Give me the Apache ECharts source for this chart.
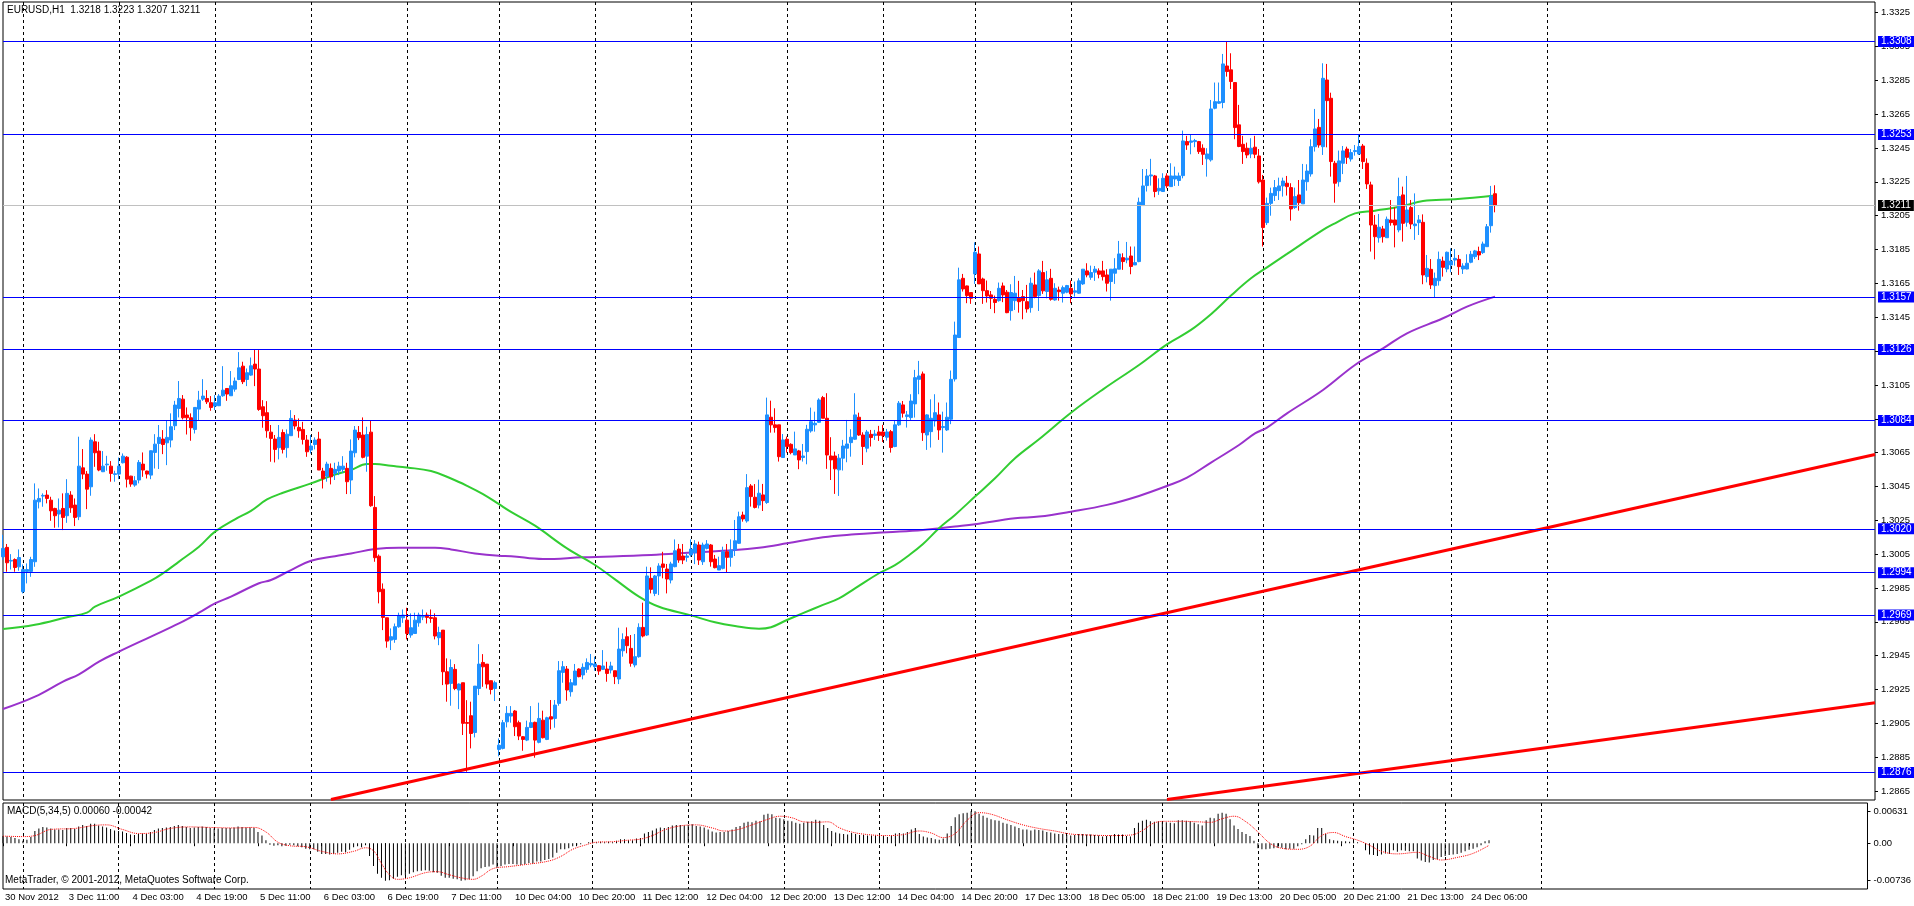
<!DOCTYPE html>
<html><head><meta charset="utf-8">
<script src="https://cdn.jsdelivr.net/npm/echarts@6/dist/echarts.min.js"></script>
<style>html,body{margin:0;padding:0;background:#fff}#c{width:1914px;height:906px}</style>
</head><body><div id="c"></div>
<script>
// trading sessions: [day label, first hour, last hour]
const sessions = [
 ['30 Nov',18,22],['3 Dec',0,23],['4 Dec',0,23],['5 Dec',0,23],['6 Dec',0,23],['7 Dec',0,22],
 ['10 Dec',0,23],['11 Dec',0,23],['12 Dec',0,23],['13 Dec',0,23],['14 Dec',0,22],
 ['17 Dec',0,23],['18 Dec',0,23],['19 Dec',0,23],['20 Dec',0,23],['21 Dec',0,22],
 ['24 Dec',0,23],['25 Dec',0,23],['26 Dec',0,23],['27 Dec',0,23],['28 Dec',0,22]
];
const firstLabel = '30 Nov 2012';
const titleText = 'EURUSD,H1  1.3218 1.3223 1.3207 1.3211';
const macdText = 'MACD(5,34,5) 0.00060 -0.00042';
const copyText = 'MetaTrader, \u00a9 2001-2012, MetaQuotes Software Corp.';

// [open, close, low, high]
const candles = [
[1.30034,1.30084,1.30015,1.30164],[1.30090,1.29999,1.29946,1.30110],[1.30009,1.30013,1.29959,1.30050],[1.30018,1.29971,1.29946,1.30025],[1.29975,1.30030,1.29952,1.30078],
[1.29828,1.29959,1.29818,1.29989],[1.29948,1.29959,1.29877,1.29995],[1.29948,1.30018,1.29916,1.30034],[1.30005,1.30369,1.29975,1.30468],[1.30359,1.30379,1.30320,1.30438],
[1.30393,1.30397,1.30330,1.30409],[1.30399,1.30379,1.30350,1.30428],[1.30369,1.30306,1.30247,1.30389],[1.30320,1.30277,1.30206,1.30324],[1.30287,1.30310,1.30208,1.30379],
[1.30320,1.30267,1.30192,1.30409],[1.30277,1.30409,1.30235,1.30493],[1.30399,1.30324,1.30294,1.30422],[1.30340,1.30267,1.30216,1.30379],[1.30271,1.30570,1.30251,1.30744],
[1.30560,1.30523,1.30493,1.30671],[1.30523,1.30434,1.30316,1.30541],[1.30448,1.30724,1.30395,1.30740],[1.30714,1.30649,1.30566,1.30759],[1.30659,1.30547,1.30540,1.30714],
[1.30537,1.30570,1.30535,1.30659],[1.30578,1.30582,1.30543,1.30631],[1.30570,1.30527,1.30478,1.30600],[1.30521,1.30525,1.30478,1.30543],[1.30523,1.30570,1.30493,1.30621],
[1.30590,1.30629,1.30586,1.30645],[1.30623,1.30493,1.30444,1.30629],[1.30511,1.30464,1.30448,1.30513],[1.30458,1.30484,1.30448,1.30511],[1.30488,1.30592,1.30468,1.30606],
[1.30582,1.30547,1.30507,1.30651],[1.30541,1.30523,1.30497,1.30543],[1.30517,1.30661,1.30493,1.30663],[1.30651,1.30700,1.30556,1.30759],[1.30704,1.30740,1.30553,1.30813],
[1.30730,1.30698,1.30641,1.30783],[1.30708,1.30740,1.30576,1.30842],[1.30724,1.30803,1.30681,1.30882],[1.30809,1.30931,1.30783,1.30956],[1.30911,1.30970,1.30858,1.31073],
[1.30966,1.30856,1.30846,1.30990],[1.30872,1.30856,1.30757,1.30917],[1.30856,1.30797,1.30720,1.30882],[1.30787,1.30917,1.30763,1.30919],[1.30907,1.30960,1.30842,1.31015],
[1.30966,1.30984,1.30956,1.31084],[1.30970,1.30950,1.30937,1.31019],[1.30945,1.30917,1.30897,1.30984],[1.30925,1.30945,1.30901,1.30990],[1.30927,1.30984,1.30925,1.30996],
[1.30986,1.31019,1.30980,1.31161],[1.31029,1.30996,1.30956,1.31030],[1.30986,1.31045,1.30985,1.31132],[1.31025,1.31073,1.31010,1.31094],[1.31082,1.31151,1.31078,1.31244],
[1.31161,1.31069,1.31055,1.31187],[1.31082,1.31122,1.31043,1.31147],[1.31108,1.31163,1.31104,1.31212],[1.31173,1.31144,1.31043,1.31260],[1.31144,1.30905,1.30897,1.31256],
[1.30921,1.30868,1.30797,1.30960],[1.30886,1.30779,1.30738,1.30954],[1.30771,1.30734,1.30596,1.30813],[1.30730,1.30669,1.30592,1.30754],[1.30679,1.30740,1.30610,1.30813],
[1.30769,1.30669,1.30645,1.30787],[1.30679,1.30759,1.30620,1.30787],[1.30750,1.30852,1.30750,1.30901],[1.30842,1.30807,1.30787,1.30872],[1.30799,1.30779,1.30738,1.30852],
[1.30787,1.30728,1.30698,1.30832],[1.30724,1.30655,1.30625,1.30754],[1.30665,1.30689,1.30645,1.30754],[1.30698,1.30724,1.30669,1.30740],[1.30730,1.30547,1.30547,1.30773],
[1.30541,1.30497,1.30438,1.30560],[1.30511,1.30582,1.30478,1.30596],[1.30557,1.30507,1.30462,1.30586],[1.30527,1.30551,1.30488,1.30590],[1.30541,1.30570,1.30517,1.30596],
[1.30551,1.30570,1.30531,1.30629],[1.30557,1.30478,1.30405,1.30590],[1.30488,1.30659,1.30405,1.30728],[1.30649,1.30783,1.30622,1.30807],[1.30769,1.30738,1.30724,1.30807],
[1.30754,1.30622,1.30616,1.30858],[1.30629,1.30757,1.30537,1.30803],[1.30771,1.30336,1.30330,1.30842],[1.30326,1.30029,1.30005,1.30393],[1.30038,1.29828,1.29759,1.30048],
[1.29843,1.29676,1.29601,1.29877],[1.29674,1.29536,1.29497,1.29674],[1.29542,1.29562,1.29483,1.29611],[1.29546,1.29621,1.29526,1.29640],[1.29621,1.29688,1.29615,1.29704],
[1.29674,1.29690,1.29644,1.29723],[1.29660,1.29581,1.29546,1.29733],[1.29572,1.29615,1.29556,1.29700],[1.29581,1.29660,1.29581,1.29704],[1.29644,1.29690,1.29621,1.29704],
[1.29678,1.29682,1.29660,1.29723],[1.29690,1.29676,1.29640,1.29705],[1.29676,1.29670,1.29644,1.29723],[1.29674,1.29566,1.29546,1.29700],[1.29556,1.29587,1.29512,1.29621],
[1.29601,1.29355,1.29276,1.29601],[1.29355,1.29282,1.29178,1.29434],[1.29286,1.29380,1.29154,1.29428],[1.29369,1.29256,1.29246,1.29400],[1.29247,1.29282,1.29134,1.29286],
[1.29290,1.29050,1.28981,1.29290],[1.29055,1.29050,1.28764,1.29187],[1.29095,1.28990,1.28902,1.29178],[1.28996,1.29270,1.28967,1.29270],[1.29256,1.29400,1.29217,1.29518],
[1.29410,1.29384,1.29266,1.29459],[1.29400,1.29282,1.29256,1.29400],[1.29302,1.29250,1.29221,1.29302],[1.29256,1.29290,1.29182,1.29302],[1.28896,1.28921,1.28855,1.28961],
[1.28902,1.29054,1.28896,1.29070],[1.29059,1.29109,1.29026,1.29152],[1.29093,1.29109,1.29054,1.29152],[1.29123,1.29030,1.28975,1.29129],[1.29054,1.28975,1.28951,1.29066],
[1.28971,1.28955,1.28888,1.28975],[1.28951,1.29026,1.28945,1.29066],[1.29026,1.29054,1.29022,1.29152],[1.29056,1.28951,1.28847,1.29060],[1.28938,1.29079,1.28932,1.29172],
[1.29069,1.28965,1.28961,1.29125],[1.28955,1.29083,1.28951,1.29089],[1.29089,1.29075,1.29014,1.29188],[1.29079,1.29158,1.29024,1.29188],[1.29168,1.29361,1.29154,1.29418],
[1.29351,1.29385,1.29290,1.29418],[1.29371,1.29247,1.29184,1.29389],[1.29237,1.29290,1.29208,1.29312],[1.29276,1.29359,1.29276,1.29401],[1.29371,1.29326,1.29322,1.29375],
[1.29336,1.29381,1.29310,1.29404],[1.29369,1.29410,1.29349,1.29434],[1.29395,1.29404,1.29381,1.29460],[1.29385,1.29401,1.29361,1.29444],[1.29391,1.29359,1.29336,1.29395],
[1.29369,1.29389,1.29365,1.29483],[1.29371,1.29345,1.29296,1.29414],[1.29365,1.29389,1.29345,1.29414],[1.29361,1.29326,1.29282,1.29361],[1.29312,1.29489,1.29282,1.29615],
[1.29479,1.29546,1.29444,1.29582],[1.29562,1.29509,1.29464,1.29617],[1.29493,1.29405,1.29385,1.29572],[1.29395,1.29444,1.29381,1.29578],[1.29444,1.29617,1.29438,1.29641],
[1.29617,1.29566,1.29558,1.29763],[1.29572,1.29921,1.29566,1.29976],[1.29907,1.29842,1.29818,1.29972],[1.29818,1.29921,1.29802,1.29927],[1.29921,1.29980,1.29808,1.29996],
[1.29992,1.29972,1.29907,1.30064],[1.29962,1.29903,1.29818,1.29992],[1.29897,1.29992,1.29877,1.30005],[1.29976,1.30070,1.29972,1.30137],[1.30080,1.30015,1.29999,1.30110],
[1.30039,1.30015,1.29991,1.30110],[1.30031,1.30039,1.30005,1.30051],[1.30045,1.30080,1.30035,1.30137],[1.30059,1.30110,1.29991,1.30133],[1.30104,1.30015,1.29986,1.30124],
[1.30005,1.30104,1.29986,1.30118],[1.30084,1.30110,1.30078,1.30133],[1.30104,1.30005,1.29976,1.30110],[1.30021,1.29970,1.29966,1.30045],[1.29956,1.29982,1.29956,1.30035],
[1.29966,1.30064,1.29960,1.30094],[1.30064,1.30031,1.29940,1.30110],[1.30031,1.30074,1.29976,1.30137],[1.30074,1.30129,1.30039,1.30252],[1.30114,1.30271,1.30110,1.30301],
[1.30281,1.30258,1.30242,1.30301],[1.30246,1.30443,1.30236,1.30523],[1.30453,1.30390,1.30331,1.30464],[1.30386,1.30326,1.30320,1.30464],[1.30340,1.30410,1.30320,1.30490],
[1.30400,1.30366,1.30305,1.30465],[1.30355,1.30873,1.30347,1.30975],[1.30859,1.30814,1.30768,1.30957],[1.30814,1.30798,1.30768,1.30912],[1.30814,1.30626,1.30597,1.30814],
[1.30621,1.30725,1.30621,1.30760],[1.30729,1.30686,1.30650,1.30745],[1.30699,1.30650,1.30640,1.30705],[1.30636,1.30672,1.30636,1.30774],[1.30660,1.30607,1.30552,1.30666],
[1.30621,1.30630,1.30597,1.30701],[1.30656,1.30788,1.30581,1.30814],[1.30778,1.30833,1.30768,1.30916],[1.30814,1.30823,1.30774,1.30892],[1.30829,1.30961,1.30827,1.30971],
[1.30975,1.30853,1.30853,1.30985],[1.30853,1.30636,1.30554,1.31001],[1.30630,1.30607,1.30488,1.30741],[1.30630,1.30554,1.30406,1.30656],[1.30548,1.30617,1.30394,1.30642],
[1.30617,1.30689,1.30544,1.30725],[1.30676,1.30701,1.30593,1.30843],[1.30709,1.30741,1.30626,1.30788],[1.30729,1.30873,1.30725,1.31001],[1.30859,1.30754,1.30749,1.30886],
[1.30754,1.30686,1.30577,1.30770],[1.30676,1.30772,1.30652,1.30784],[1.30758,1.30739,1.30686,1.30784],[1.30751,1.30760,1.30725,1.30784],[1.30772,1.30752,1.30719,1.30808],
[1.30772,1.30750,1.30713,1.30814],[1.30741,1.30772,1.30721,1.30790],[1.30774,1.30680,1.30650,1.30784],[1.30686,1.30814,1.30682,1.30839],[1.30814,1.30942,1.30808,1.30955],
[1.30932,1.30883,1.30857,1.30955],[1.30863,1.30873,1.30798,1.30896],[1.30857,1.30955,1.30843,1.30995],[1.30938,1.31093,1.30857,1.31139],[1.31083,1.31103,1.30995,1.31192],
[1.31115,1.30768,1.30719,1.31129],[1.30754,1.30873,1.30666,1.30877],[1.30774,1.30853,1.30680,1.30965],[1.30837,1.30886,1.30804,1.30995],[1.30873,1.30784,1.30725,1.30946],
[1.30798,1.30804,1.30650,1.30892],[1.30784,1.30859,1.30778,1.30946],[1.30847,1.31083,1.30818,1.31135],[1.31085,1.31345,1.31070,1.31424],[1.31330,1.31671,1.31330,1.31743],
[1.31680,1.31617,1.31602,1.31706],[1.31635,1.31578,1.31533,1.31637],[1.31596,1.31562,1.31529,1.31596],[1.31706,1.31834,1.31647,1.31893],[1.31824,1.31647,1.31647,1.31868],
[1.31676,1.31607,1.31529,1.31684],[1.31607,1.31576,1.31537,1.31667],[1.31582,1.31562,1.31499,1.31605],[1.31556,1.31537,1.31474,1.31578],[1.31548,1.31621,1.31542,1.31655],
[1.31635,1.31582,1.31539,1.31655],[1.31598,1.31477,1.31474,1.31611],[1.31489,1.31596,1.31430,1.31645],[1.31548,1.31592,1.31493,1.31694],[1.31562,1.31542,1.31477,1.31665],
[1.31572,1.31548,1.31438,1.31611],[1.31542,1.31499,1.31477,1.31641],[1.31507,1.31651,1.31477,1.31684],[1.31641,1.31572,1.31562,1.31714],[1.31578,1.31724,1.31487,1.31734],
[1.31714,1.31606,1.31588,1.31783],[1.31602,1.31671,1.31562,1.31724],[1.31680,1.31556,1.31548,1.31736],[1.31552,1.31621,1.31548,1.31651],[1.31611,1.31601,1.31548,1.31631],
[1.31592,1.31625,1.31537,1.31637],[1.31598,1.31637,1.31592,1.31641],[1.31621,1.31588,1.31533,1.31667],[1.31598,1.31606,1.31572,1.31661],[1.31592,1.31665,1.31588,1.31680],
[1.31647,1.31734,1.31641,1.31734],[1.31724,1.31700,1.31686,1.31769],[1.31686,1.31714,1.31671,1.31755],[1.31716,1.31734,1.31665,1.31753],[1.31724,1.31704,1.31680,1.31739],
[1.31724,1.31690,1.31667,1.31783],[1.31700,1.31651,1.31602,1.31734],[1.31661,1.31734,1.31548,1.31734],[1.31710,1.31736,1.31647,1.31799],[1.31734,1.31824,1.31734,1.31901],
[1.31802,1.31779,1.31730,1.31828],[1.31789,1.31799,1.31769,1.31895],[1.31812,1.31750,1.31704,1.31868],[1.31759,1.31773,1.31759,1.31868],[1.31779,1.32130,1.31775,1.32157],
[1.32110,1.32226,1.32110,1.32326],[1.32228,1.32285,1.32193,1.32326],[1.32285,1.32291,1.32228,1.32386],[1.32285,1.32193,1.32159,1.32291],[1.32197,1.32212,1.32173,1.32271],
[1.32193,1.32271,1.32193,1.32301],[1.32285,1.32226,1.32212,1.32301],[1.32222,1.32285,1.32222,1.32360],[1.32267,1.32285,1.32226,1.32340],[1.32258,1.32285,1.32226,1.32305],
[1.32287,1.32492,1.32271,1.32553],[1.32488,1.32468,1.32439,1.32522],[1.32484,1.32492,1.32413,1.32531],[1.32488,1.32494,1.32455,1.32504],[1.32488,1.32429,1.32415,1.32492],
[1.32449,1.32413,1.32350,1.32472],[1.32386,1.32415,1.32281,1.32449],[1.32380,1.32681,1.32370,1.32734],[1.32685,1.32724,1.32679,1.32837],[1.32715,1.32724,1.32711,1.32837],
[1.32719,1.32947,1.32685,1.33006],[1.32935,1.32902,1.32872,1.33080],[1.32912,1.32843,1.32799,1.33010],[1.32837,1.32571,1.32502,1.32837],[1.32587,1.32459,1.32455,1.32705],
[1.32472,1.32429,1.32356,1.32522],[1.32449,1.32409,1.32390,1.32482],[1.32415,1.32449,1.32390,1.32508],[1.32455,1.32413,1.32390,1.32522],[1.32403,1.32250,1.32240,1.32444],
[1.32261,1.31980,1.31868,1.32291],[1.32009,1.32123,1.31995,1.32157],[1.32123,1.32182,1.32050,1.32216],[1.32169,1.32216,1.32137,1.32261],[1.32198,1.32226,1.32143,1.32275],
[1.32226,1.32255,1.32163,1.32275],[1.32242,1.32222,1.32169,1.32285],[1.32216,1.32090,1.32021,1.32242],[1.32098,1.32163,1.32090,1.32216],[1.32173,1.32127,1.32080,1.32261],
[1.32120,1.32261,1.32120,1.32356],[1.32251,1.32314,1.32198,1.32354],[1.32297,1.32458,1.32281,1.32502],[1.32458,1.32563,1.32429,1.32681],[1.32572,1.32468,1.32452,1.32622],
[1.32458,1.32862,1.32409,1.32951],[1.32852,1.32730,1.32454,1.32947],[1.32744,1.32370,1.32281,1.32777],[1.32360,1.32242,1.32127,1.32374],[1.32251,1.32374,1.32222,1.32435],
[1.32360,1.32433,1.32296,1.32462],[1.32444,1.32395,1.32356,1.32458],[1.32385,1.32423,1.32370,1.32444],[1.32429,1.32435,1.32405,1.32468],[1.32415,1.32458,1.32409,1.32527],
[1.32462,1.32370,1.32326,1.32474],[1.32360,1.32238,1.32208,1.32389],[1.32232,1.31995,1.31838,1.32251],[1.31995,1.31926,1.31792,1.32054],[1.31920,1.31982,1.31891,1.32060],
[1.31972,1.31926,1.31891,1.31990],[1.31920,1.32029,1.31920,1.32045],[1.32025,1.32009,1.31991,1.32143],[1.32025,1.31995,1.31863,1.32100],[1.31966,1.32163,1.31952,1.32275],
[1.32173,1.32005,1.31897,1.32222],[1.32011,1.32084,1.31985,1.32285],[1.32098,1.32001,1.31971,1.32143],[1.31991,1.32001,1.31907,1.32182],[1.32009,1.32025,1.31936,1.32054],
[1.32011,1.31700,1.31645,1.32058],[1.31690,1.31739,1.31656,1.31818],[1.31733,1.31641,1.31617,1.31794],[1.31637,1.31680,1.31568,1.31714],[1.31666,1.31792,1.31637,1.31838],
[1.31782,1.31745,1.31690,1.31808],[1.31735,1.31834,1.31716,1.31838],[1.31759,1.31782,1.31716,1.31857],[1.31788,1.31798,1.31755,1.31853],[1.31792,1.31749,1.31700,1.31818],
[1.31735,1.31753,1.31706,1.31769],[1.31735,1.31769,1.31733,1.31822],[1.31775,1.31822,1.31769,1.31842],[1.31808,1.31842,1.31794,1.31848],[1.31838,1.31818,1.31788,1.31867],
[1.31832,1.31883,1.31824,1.31897],[1.31867,1.31985,1.31867,1.32001],[1.31991,1.32167,1.31950,1.32226],[1.32180,1.32110,1.32070,1.32230]
];

// moving averages read at sample bars: [bar, price]
const maGreen = [[0,1.29608],[8,1.29633],[16,1.29677],[21,1.29704],[23,1.29740],[29,1.29799],[37,1.29893],[40,1.29937],[44,1.30006],[49,1.30094],[53,1.30183],[58,1.30256],[62,1.30306],[66,1.30373],[70,1.30413],[77,1.30468],[83,1.30521],[87,1.30547],[91,1.30582],[93,1.30582],[97,1.30572],[101,1.30562],[107,1.30541],[112,1.30497],[116,1.30454],[120,1.30405],[124,1.30345],[127,1.30300],[133,1.30218],[141,1.30084],[148,1.29986],[153,1.29901],[159,1.29799],[164,1.29739],[172,1.29688],[178,1.29647],[183,1.29625],[189,1.29609],[192,1.29618],[196,1.29661],[200,1.29701],[205,1.29750],[209,1.29789],[213,1.29848],[219,1.29937],[223,1.29985],[226,1.30035],[230,1.30110],[234,1.30203],[238,1.30282],[243,1.30390],[248,1.30498],[253,1.30617],[259,1.30729],[267,1.30886],[275,1.31024],[284,1.31168],[291,1.31290],[297,1.31375],[302,1.31468],[307,1.31578],[312,1.31680],[316,1.31745],[321,1.31824],[330,1.31966],[333,1.32005],[338,1.32064],[343,1.32080],[350,1.32108],[355,1.32137],[363,1.32147],[373,1.32169]];
const maPurple = [[0,1.29135],[8,1.29208],[15,1.29297],[19,1.29340],[24,1.29415],[29,1.29474],[37,1.29563],[44,1.29641],[49,1.29704],[53,1.29759],[57,1.29799],[64,1.29878],[67,1.29897],[72,1.29956],[77,1.30011],[83,1.30038],[87,1.30054],[93,1.30080],[99,1.30088],[108,1.30088],[112,1.30078],[118,1.30054],[124,1.30040],[127,1.30038],[135,1.30021],[145,1.30031],[162,1.30045],[172,1.30059],[183,1.30074],[189,1.30088],[196,1.30114],[205,1.30150],[213,1.30167],[221,1.30179],[230,1.30193],[238,1.30213],[243,1.30226],[253,1.30262],[259,1.30272],[267,1.30301],[276,1.30341],[284,1.30394],[291,1.30453],[296,1.30502],[302,1.30591],[309,1.30695],[313,1.30764],[316,1.30798],[321,1.30882],[330,1.31020],[338,1.31168],[345,1.31266],[351,1.31355],[360,1.31444],[366,1.31513],[373,1.31572]];

// trend lines [bar, price] end points
const trend1 = [[82,1.28600],[468,1.30639]];
const trend2 = [[291,1.28600],[468,1.29172]];

// horizontal levels
const levels = [1.3308,1.3253,1.3157,1.3126,1.3084,1.3020,1.2994,1.2969,1.2876];
const bidPrice = 1.3211;

// MACD(5,34,5)
const macdHist = [
0.0014,0.0013,0.0012,0.0010,0.0008,0.0005,0.0007,0.0012,0.0024,0.0029,
0.0032,0.0031,0.0029,0.0027,0.0027,0.0026,0.0030,0.0030,0.0028,0.0033,
0.0036,0.0034,0.0038,0.0038,0.0035,0.0033,0.0031,0.0028,0.0025,0.0024,
0.0023,0.0020,0.0017,0.0016,0.0018,0.0019,0.0018,0.0022,0.0026,0.0029,
0.0030,0.0031,0.0032,0.0034,0.0036,0.0034,0.0032,0.0030,0.0031,0.0032,
0.0033,0.0032,0.0030,0.0029,0.0029,0.0030,0.0030,0.0030,0.0031,0.0033,
0.0032,0.0031,0.0031,0.0030,0.0022,0.0015,0.0006,-0.0003,-0.0005,-0.0004,
-0.0006,-0.0005,-0.0003,-0.0004,-0.0006,-0.0008,-0.0011,-0.0012,-0.0012,-0.0017,
-0.0021,-0.0021,-0.0022,-0.0021,-0.0019,-0.0017,-0.0018,-0.0013,-0.0008,-0.0006,
-0.0008,-0.0004,-0.0025,-0.0045,-0.0060,-0.0068,-0.0074,-0.0073,-0.0070,-0.0066,
-0.0063,-0.0063,-0.0060,-0.0057,-0.0055,-0.0054,-0.0053,-0.0054,-0.0057,-0.0058,
-0.0064,-0.0068,-0.0068,-0.0070,-0.0071,-0.0074,-0.0073,-0.0071,-0.0065,-0.0055,
-0.0049,-0.0047,-0.0046,-0.0042,-0.0048,-0.0045,-0.0042,-0.0041,-0.0041,-0.0042,
-0.0043,-0.0041,-0.0039,-0.0040,-0.0036,-0.0036,-0.0033,-0.0031,-0.0028,-0.0019,
-0.0012,-0.0012,-0.0010,-0.0006,-0.0004,-0.0002,0.0000,0.0002,0.0003,0.0002,
0.0003,0.0002,0.0003,0.0002,0.0005,0.0008,0.0008,0.0006,0.0006,0.0009,
0.0010,0.0019,0.0022,0.0025,0.0029,0.0031,0.0030,0.0032,0.0035,0.0036,
0.0036,0.0035,0.0036,0.0037,0.0034,0.0033,0.0031,0.0027,0.0023,0.0021,
0.0022,0.0022,0.0024,0.0027,0.0032,0.0034,0.0040,0.0042,0.0041,0.0044,
0.0043,0.0056,0.0058,0.0057,0.0050,0.0049,0.0047,0.0044,0.0043,0.0040,
0.0038,0.0040,0.0042,0.0043,0.0046,0.0044,0.0036,0.0030,0.0024,0.0021,
0.0019,0.0018,0.0017,0.0020,0.0018,0.0016,0.0016,0.0015,0.0015,0.0015,
0.0014,0.0014,0.0012,0.0015,0.0019,0.0020,0.0019,0.0022,0.0027,0.0030,
0.0018,0.0013,0.0011,0.0010,0.0008,0.0007,0.0009,0.0019,0.0034,0.0051,
0.0057,0.0059,0.0060,0.0063,0.0063,0.0058,0.0054,0.0050,0.0047,0.0045,
0.0044,0.0040,0.0038,0.0036,0.0033,0.0030,0.0027,0.0027,0.0025,0.0027,
0.0026,0.0025,0.0022,0.0021,0.0019,0.0018,0.0018,0.0016,0.0015,0.0016,
0.0018,0.0018,0.0017,0.0017,0.0016,0.0015,0.0013,0.0014,0.0015,0.0018,
0.0017,0.0017,0.0014,0.0013,0.0030,0.0040,0.0044,0.0046,0.0043,0.0042,
0.0043,0.0041,0.0041,0.0040,0.0039,0.0045,0.0045,0.0044,0.0043,0.0040,
0.0037,0.0035,0.0045,0.0050,0.0049,0.0058,0.0060,0.0058,0.0047,0.0035,
0.0028,0.0022,0.0018,0.0014,0.0005,-0.0010,-0.0012,-0.0012,-0.0011,-0.0010,
-0.0009,-0.0009,-0.0012,-0.0011,-0.0011,-0.0006,-0.0002,0.0008,0.0016,0.0015,
0.0030,0.0030,0.0018,0.0008,0.0006,0.0005,0.0004,0.0004,0.0003,0.0003,
0.0002,0.0000,-0.0014,-0.0022,-0.0023,-0.0025,-0.0022,-0.0020,-0.0021,-0.0014,
-0.0017,-0.0014,-0.0015,-0.0016,-0.0016,-0.0030,-0.0034,-0.0037,-0.0038,-0.0033,
-0.0031,-0.0027,-0.0025,-0.0023,-0.0022,-0.0021,-0.0019,-0.0016,-0.0013,-0.0011,
-0.0008,-0.0004,0.0004,0.0006
];
const macdSignal = [[0,0.0014],[5,0.0013],[8,0.0015],[12,0.0027],[18,0.0029],[23,0.0035],[26,0.0036],[30,0.0027],[34,0.0019],[38,0.0021],[42,0.0029],[47,0.0032],[52,0.0031],[58,0.0030],[63,0.0031],[66,0.0022],[69,0.0002],[72,-0.0005],[76,-0.0007],[80,-0.0016],[84,-0.0021],[88,-0.0016],[91,-0.0009],[93,-0.0015],[95,-0.0040],[97,-0.0062],[99,-0.0071],[102,-0.0068],[106,-0.0058],[109,-0.0056],[112,-0.0062],[115,-0.0068],[118,-0.0071],[120,-0.0065],[123,-0.0050],[127,-0.0046],[132,-0.0041],[137,-0.0035],[140,-0.0026],[143,-0.0012],[146,-0.0004],[149,0.0002],[153,0.0003],[157,0.0006],[160,0.0008],[163,0.0015],[166,0.0026],[170,0.0034],[174,0.0036],[178,0.0030],[181,0.0024],[184,0.0026],[188,0.0036],[192,0.0047],[195,0.0053],[198,0.0050],[201,0.0042],[204,0.0041],[207,0.0042],[210,0.0030],[213,0.0022],[217,0.0017],[222,0.0015],[226,0.0017],[230,0.0024],[233,0.0020],[236,0.0011],[239,0.0019],[242,0.0045],[245,0.0060],[248,0.0057],[252,0.0046],[256,0.0036],[260,0.0029],[264,0.0024],[268,0.0018],[273,0.0016],[278,0.0015],[283,0.0016],[286,0.0025],[289,0.0040],[292,0.0043],[296,0.0043],[300,0.0042],[303,0.0041],[306,0.0048],[309,0.0053],[312,0.0042],[315,0.0022],[318,0.0000],[321,-0.0010],[325,-0.0012],[328,-0.0006],[331,0.0015],[334,0.0021],[337,0.0013],[340,0.0006],[343,-0.0004],[346,-0.0016],[350,-0.0021],[355,-0.0018],[358,-0.0026],[361,-0.0033],[365,-0.0028],[369,-0.0020],[373,-0.00042]];

const priceTicks = [1.2865,1.2885,1.2905,1.2925,1.2945,1.2965,1.2985,1.3005,1.3025,1.3045,1.3065,1.3085,1.3105,1.3125,1.3145,1.3165,1.3185,1.3205,1.3225,1.3245,1.3265,1.3285,1.3305,1.3325];
const macdTicks = [0.00631,0,-0.00736];

// ---- build categories ----
const NCAT = 469;
const categories = [], hours = [];
for (const [d,h0,h1] of sessions) {
  for (let h=h0; h<=h1; h++) {
    categories.push(d + ' ' + (h<10?'0':'') + h + ':00');
    hours.push(h);
  }
}
categories.length = NCAT; hours.length = NCAT;
const lastBar = candles.length - 1;
const lastGrid = 386;
const isDayStart = i => hours[i] === 0 && i <= lastGrid;
const isLabel = i => i % 16 === 0 && i <= lastBar;

const FONT = 'Liberation Sans, Arial, sans-serif';
const chart = echarts.init(document.getElementById('c'), null, {renderer:'canvas'});
const split = {show:true, interval:(i)=>isDayStart(i), lineStyle:{color:'#000', type:[3,3], width:1}};

const option = {
  animation:false,
  backgroundColor:'#fff',
  textStyle:{fontFamily:FONT},
  grid:[
    {left:3, top:2, width:1872, height:798, show:true, borderColor:'#000', borderWidth:1, backgroundColor:'transparent'},
    {left:3, top:803, width:1872, height:86, show:true, borderColor:'#000', borderWidth:1, backgroundColor:'transparent'}
  ],
  xAxis:[
    {type:'category', gridIndex:0, data:categories, boundaryGap:false,
     axisLine:{show:false}, axisTick:{show:false}, axisLabel:{show:false}, splitLine:split},
    {type:'category', gridIndex:1, data:categories, boundaryGap:false,
     axisLine:{show:false},
     axisTick:{show:true, interval:(i)=>isLabel(i), length:3, lineStyle:{color:'#000'}},
     axisLabel:{show:true, interval:(i)=>isLabel(i), align:'left', margin:3, padding:[0,0,0,2],
       color:'#000', fontSize:9.5, fontFamily:FONT,
       formatter:(v,i)=> i===0 ? firstLabel : v},
     splitLine:split}
  ],
  yAxis:[
    {type:'value', gridIndex:0, position:'right', min:1.28597, max:1.33313, scale:true,
     splitLine:{show:false}, axisLine:{show:false},
     axisTick:{show:true, length:3, lineStyle:{color:'#000'}, customValues:priceTicks},
     axisLabel:{show:true, color:'#000', fontSize:9.5, fontFamily:FONT, margin:6, customValues:priceTicks,
       formatter:(v)=>v.toFixed(4)}},
    {type:'value', gridIndex:1, position:'right', min:-0.0090, max:0.0079,
     splitLine:{show:false}, axisLine:{show:false},
     axisTick:{show:true, length:3, lineStyle:{color:'#000'}, customValues:macdTicks},
     axisLabel:{show:true, color:'#000', fontSize:9.5, fontFamily:FONT, margin:6, customValues:macdTicks,
       formatter:(v)=> Math.abs(v)<1e-9 ? '0.00' : v.toFixed(5)}}
  ],
  series:[
    {type:'line', xAxisIndex:0, yAxisIndex:0, data:maPurple, smooth:0.4, symbol:'none',
     lineStyle:{color:'#9932CC', width:2}, z:3},
    {type:'line', xAxisIndex:0, yAxisIndex:0, data:maGreen, smooth:0.4, symbol:'none',
     lineStyle:{color:'#32CD32', width:2}, z:3},
    {type:'line', xAxisIndex:0, yAxisIndex:0, data:trend1, symbol:'none',
     lineStyle:{color:'#FF0000', width:3}, z:3},
    {type:'line', xAxisIndex:0, yAxisIndex:0, data:trend2, symbol:'none',
     lineStyle:{color:'#FF0000', width:3}, z:3},
    {type:'candlestick', xAxisIndex:0, yAxisIndex:0, data:candles, barWidth:3, z:4,
     itemStyle:{color:'#1E90FF', color0:'#FF0000', borderColor:'#1E90FF', borderColor0:'#FF0000', borderWidth:1},
     markLine:{silent:true, symbol:['none','none'], animation:false, precision:4,
       data:[
         ...levels.map(v=>({yAxis:v, lineStyle:{color:'#0000FF', width:1, type:'solid'},
            label:{show:true, position:'end', distance:3, formatter:()=>v.toFixed(4), color:'#fff',
              backgroundColor:'#0000FF', padding:[1,3,0,3], fontSize:10, fontFamily:FONT}})),
         {yAxis:bidPrice, lineStyle:{color:'#C0C0C0', width:1, type:'solid'},
            label:{show:true, position:'end', distance:3, formatter:()=>bidPrice.toFixed(4), color:'#fff',
              backgroundColor:'#000', padding:[1,3,0,3], fontSize:10, fontFamily:FONT}}
       ]}},
    {type:'bar', xAxisIndex:1, yAxisIndex:1, data:macdHist, barWidth:1, itemStyle:{color:'#000'}, z:2},
    {type:'line', xAxisIndex:1, yAxisIndex:1, data:macdSignal, smooth:0.4, symbol:'none',
     lineStyle:{color:'#FF0000', width:1, type:'dotted'}, z:3}
  ],
  graphic:[
    {type:'text', left:7, top:5, style:{text:titleText, fill:'#000', font:'10px ' + FONT}},
    {type:'text', left:7, top:806, style:{text:macdText, fill:'#000', font:'10px ' + FONT}},
    {type:'text', left:5, top:875, style:{text:copyText, fill:'#000', font:'10px ' + FONT}}
  ]
};
chart.setOption(option);
</script>
</body></html>
